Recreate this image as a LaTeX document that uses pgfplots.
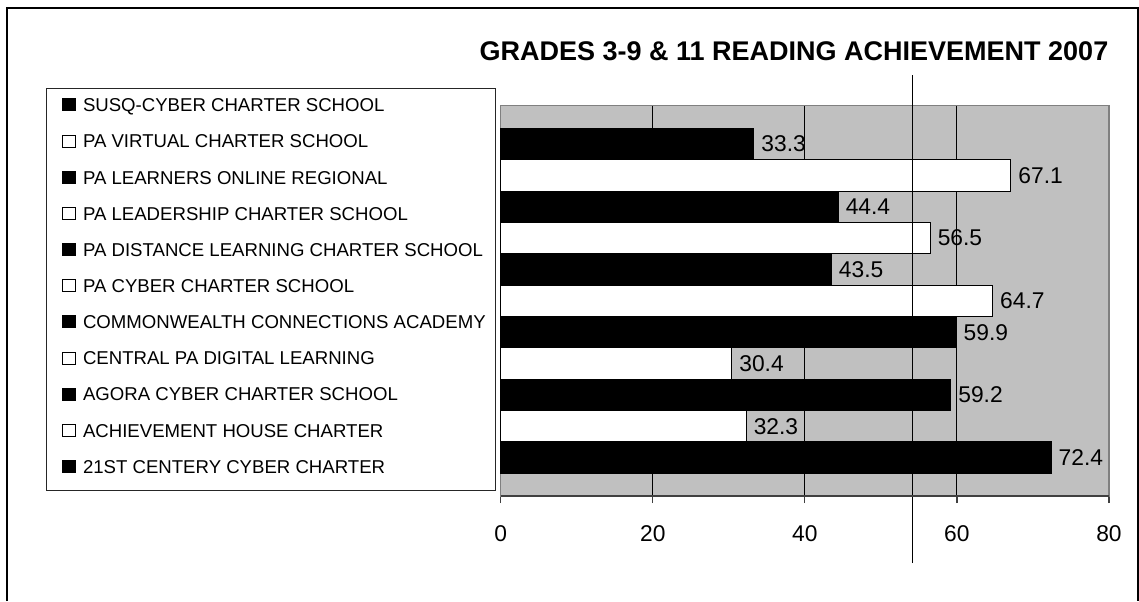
\documentclass[border=0pt]{standalone}
\usepackage{pgfplots}
\pgfplotsset{compat=1.18}
\usepackage{fontspec}
\setmainfont{Liberation Sans}
\definecolor{bgc}{RGB}{192,192,192}
\definecolor{frc}{RGB}{128,128,128}
\definecolor{axc}{RGB}{64,64,64}
\pgfplotsset{
  sq/.style={legend image code/.code={\draw[##1,line width=0.5pt] (0pt,-3pt) rectangle (6.5pt,3pt);}},
  lab/.style={nodes near coords={\pgfmathprintnumber[fixed,fixed zerofill,precision=1,assume math mode=true]{\pgfplotspointmeta}},
    nodes near coords style={anchor=west, inner sep=0pt, xshift=3.5pt, font=\fontsize{11.4}{13}\selectfont, text=black}},
  blk/.style={fill=black, draw=black, line width=0.5pt, bar shift=0pt, sq, lab},
  wht/.style={fill=white, draw=black, line width=0.5pt, bar shift=0pt, sq, lab},
}
\begin{document}
\begin{tikzpicture}
\path (0,0) rectangle (569.5pt,299.5pt);
\draw[line width=0.7pt] (3.5pt,-1pt) -- (3.5pt,295.5pt) -- (569pt,295.5pt) -- (569pt,-1pt);
\draw[line width=0.5pt, draw=black!85] (23pt,54.5pt) rectangle (247.5pt,255.5pt);
\node[anchor=base, inner sep=0pt, font=\bfseries\fontsize{13.5}{16}\selectfont] at (397pt,269.15pt) {GRADES 3-9 \& 11 READING ACHIEVEMENT 2007};
\begin{axis}[
  at={(250.35pt,51.5pt)}, anchor=south west,
  scale only axis, width=304.15pt, height=195.15pt,
  xbar, bar width=1,
  xmin=0, xmax=80, ymin=-0.224, ymax=12.22,
  xtick={0,20,40,60,80}, ytick=\empty,
  xtick pos=bottom, tick align=outside, major tick length=3.5pt,
  xmajorgrids, grid style={black, line width=0.5pt},
  axis background/.style={fill=bgc},
  axis line style={frc, line width=0.6pt},
  xtick style={axc, line width=0.6pt},
  tick label style={font=\fontsize{11.4}{13}\selectfont},
  xticklabel style={anchor=north, inner sep=0pt, yshift=-11.3pt},
  /pgf/number format/assume math mode=true,
  point meta=x,
  clip=false,
  legend cell align=left,
  legend style={at={(axis description cs:-0.7212,1.0190)}, anchor=north west,
    draw=none, fill=none, inner sep=0pt, outer sep=0pt,
    row sep=11.38pt, column sep=3.5pt,
    nodes={inner sep=0pt, anchor=west, text height=6.7pt, text depth=0pt, font=\fontsize{9.3}{10}\selectfont}},
  after end axis/.code={\draw[axc, line width=1pt] (rel axis cs:0,0) -- (rel axis cs:1,0);},
]
\addplot[blk] coordinates {(33.3,11)};
\addlegendentry{SUSQ-CYBER CHARTER SCHOOL}
\addplot[wht] coordinates {(67.1,10)};
\addlegendentry{PA VIRTUAL CHARTER SCHOOL}
\addplot[blk] coordinates {(44.4,9)};
\addlegendentry{PA LEARNERS ONLINE REGIONAL}
\addplot[wht] coordinates {(56.5,8)};
\addlegendentry{PA LEADERSHIP CHARTER SCHOOL}
\addplot[blk] coordinates {(43.5,7)};
\addlegendentry{PA DISTANCE LEARNING CHARTER SCHOOL}
\addplot[wht] coordinates {(64.7,6)};
\addlegendentry{PA CYBER CHARTER SCHOOL}
\addplot[blk] coordinates {(59.9,5)};
\addlegendentry{COMMONWEALTH CONNECTIONS ACADEMY}
\addplot[wht] coordinates {(30.4,4)};
\addlegendentry{CENTRAL PA DIGITAL LEARNING}
\addplot[blk] coordinates {(59.2,3)};
\addlegendentry{AGORA CYBER CHARTER SCHOOL}
\addplot[wht] coordinates {(32.3,2)};
\addlegendentry{ACHIEVEMENT HOUSE CHARTER}
\addplot[blk] coordinates {(72.4,1)};
\addlegendentry{21ST CENTERY CYBER CHARTER}
\addplot[black, line width=0.6pt, sharp plot, no marks, forget plot] coordinates {(54.2,-2.36) (54.2,13.2)};
\end{axis}
\end{tikzpicture}
\end{document}
